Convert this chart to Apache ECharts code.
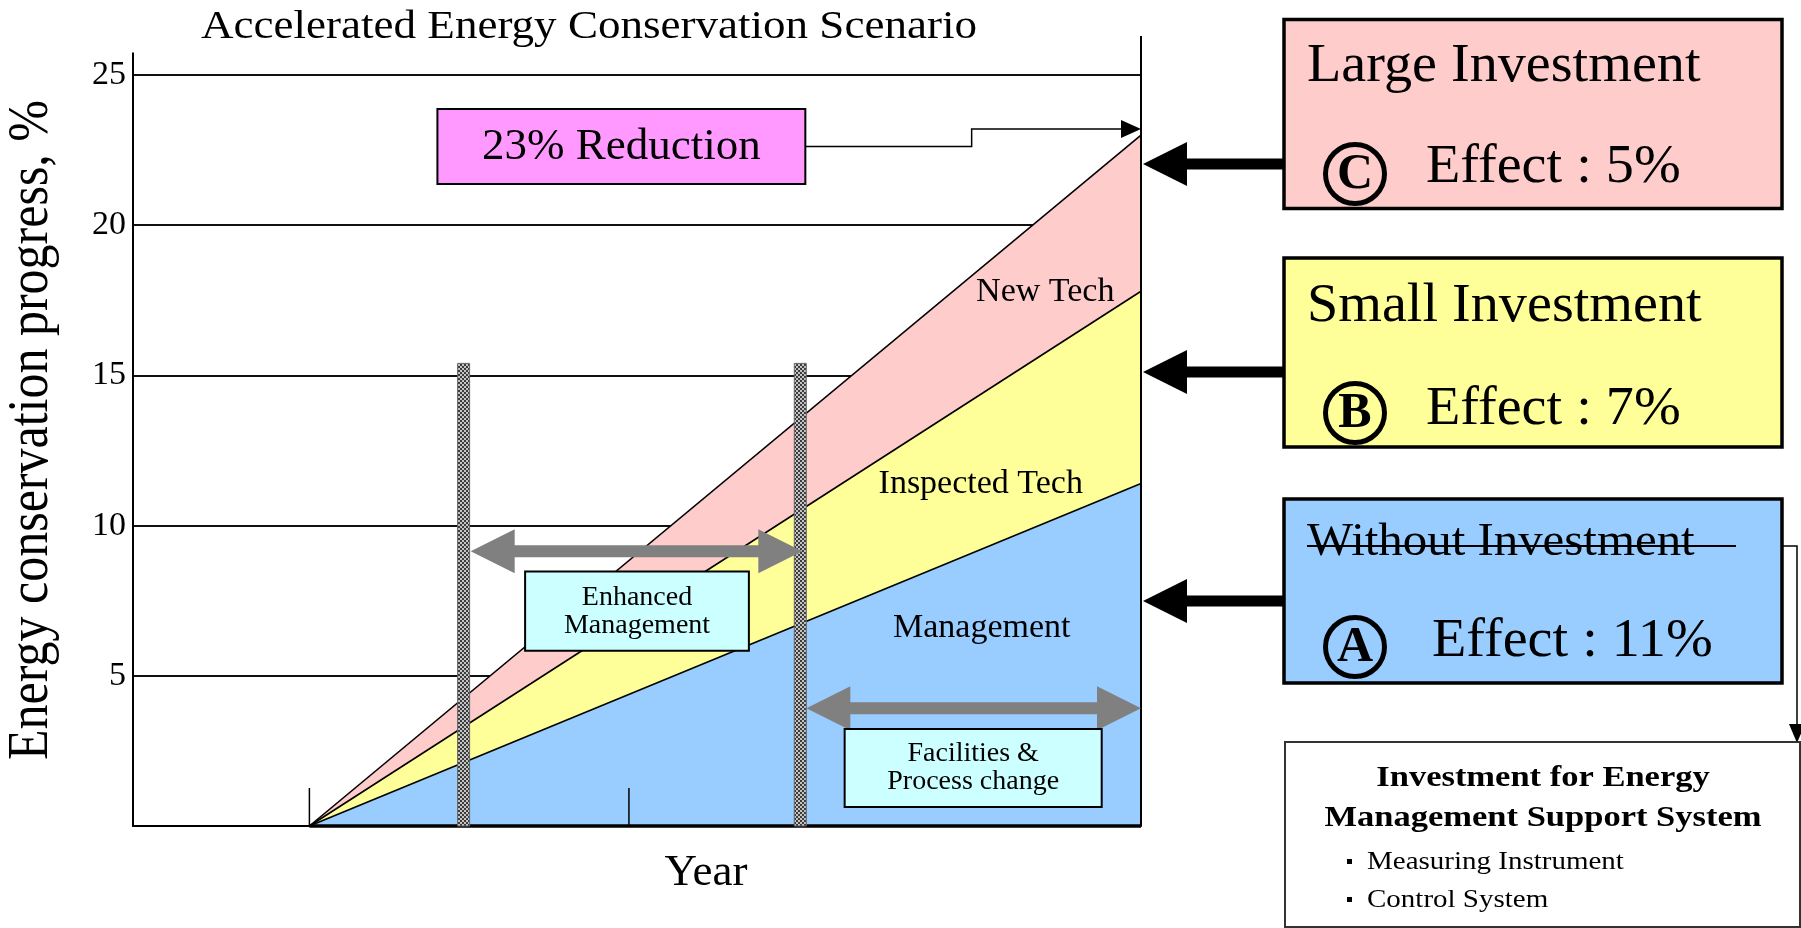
<!DOCTYPE html>
<html><head><meta charset="utf-8">
<script src="https://cdn.jsdelivr.net/npm/echarts@6/dist/echarts.min.js"></script>
<style>html,body{margin:0;padding:0;background:#fff}#c{width:1801px;height:928px}</style>
</head><body><div id="c"></div>
<script>
// ---------- data ----------
const yTicks = [0, 5, 10, 15, 20, 25];
const yearSpan = [17.5, 100];            // start and end of the scenario on the year axis
// cumulative top of each layer at start and end of the span
const managementTop = [0, 11.4];         // blue layer
const inspectedTechTop = [0, 17.8];      // yellow layer
const newTechTop = [0, 23.0];            // pink layer (total 23 %)
const layerNames = ['Management', 'Inspected Tech', 'New Tech'];
const yearTicks = [17.5, 49.2];
const phaseBounds = [32.8, 66.2];
const phaseBoundTop = [15.4, 15.4];
const phaseNames = ['Enhanced\nManagement', 'Facilities &\nProcess change'];
const totalReductionLabel = '23% Reduction';
const investTitles = ['Large Investment', 'Small Investment', 'Without Investment'];
const investLetters = ['C', 'B', 'A'];
const investEffects = ['Effect : 5%', 'Effect : 7%', 'Effect : 11%'];
const supportTitle = ['Investment for Energy', 'Management Support System'];
const supportItems = ['Measuring Instrument', 'Control System'];

// ---------- styles ----------
const F = '"Liberation Serif","Times New Roman",serif';
const pat = document.createElement('canvas');
pat.width = 4; pat.height = 4;
(function () {
  const c = pat.getContext('2d');
  c.fillStyle = '#c4c4c4'; c.fillRect(0, 0, 4, 4);
  c.fillStyle = '#3c3c3c'; c.fillRect(0, 0, 2, 2); c.fillRect(2, 2, 2, 2);
})();

function layer(name, values, color, z) {
  return {
    type: 'line', name: name, symbol: 'none', z: z,
    data: yearSpan.map((x, k) => [x, values[k]]),
    lineStyle: { color: '#000', width: 1.6 },
    areaStyle: { color: color, opacity: 1 },
    silent: true
  };
}

const chart = echarts.init(document.getElementById('c'), null, { renderer: 'canvas' });

function dblArrow(xl, xr, y) {
  const h = 44, hh = 22, t = 6;
  return [[xl, y], [xl + h, y - hh], [xl + h, y - t], [xr - h, y - t], [xr - h, y - hh], [xr, y],
          [xr - h, y + hh], [xr - h, y + t], [xl + h, y + t], [xl + h, y + hh]];
}
function leftArrow(y) {
  return [[1143, y], [1187, y - 22], [1187, y - 5.5], [1284, y - 5.5], [1284, y + 5.5], [1187, y + 5.5], [1187, y + 22]];
}

const boxFills = ['#FFCCCC', '#FFFF99', '#99CCFF'];
const boxTops = [19.5, 258, 499];
const boxHeights = [189, 189, 184];
const titleY = [67, 307, 543];
const effY = [168, 409.5, 642];
const circY = [174, 413, 647];
const effX = [1426, 1426, 1432];
const arrowY = [164, 372, 601];

const graphics = [
  { type: 'text', x: 589, y: 28, scaleX: 1.155, style: { text: 'Accelerated Energy Conservation Scenario', font: '39px ' + F, fill: '#000', align: 'center', verticalAlign: 'middle' } },
  { type: 'text', x: 32, y: 430, rotation: Math.PI / 2, scaleY: 1.15, style: { text: 'Energy conservation progress, %', font: '50px ' + F, fill: '#000', align: 'center', verticalAlign: 'middle' } },
  { type: 'text', x: 706, y: 873, style: { text: 'Year', font: '45px ' + F, fill: '#000', align: 'center', verticalAlign: 'middle' } }
];
for (let i = 0; i < 3; i++) {
  graphics.push({ type: 'polygon', shape: { points: leftArrow(arrowY[i]) }, style: { fill: '#000' } });
  graphics.push({ type: 'rect', shape: { x: 1284, y: boxTops[i], width: 498, height: boxHeights[i] }, style: { fill: boxFills[i], stroke: '#000', lineWidth: 3.5 } });
  graphics.push({ type: 'text', x: 1307, y: titleY[i], scaleX: 1.04, style: { text: investTitles[i], font: (i === 2 ? '47px ' : '54px ') + F, fill: '#000', align: 'left', verticalAlign: 'middle' } });
  graphics.push({ type: 'circle', shape: { cx: 1355, cy: circY[i], r: 29.5 }, style: { fill: 'none', stroke: '#000', lineWidth: 5 } });
  graphics.push({ type: 'text', x: 1355, y: circY[i] + 1, style: { text: investLetters[i], font: 'bold 50px ' + F, fill: '#000', align: 'center', verticalAlign: 'middle' } });
  graphics.push({ type: 'text', x: effX[i], y: effY[i], scaleX: 1.04, style: { text: investEffects[i], font: '54px ' + F, fill: '#000', align: 'left', verticalAlign: 'middle' } });
}
graphics.push({ type: 'line', shape: { x1: 1307, y1: 546, x2: 1736, y2: 546 }, style: { stroke: '#000', lineWidth: 2 } });
graphics.push({ type: 'polyline', shape: { points: [[1782, 546], [1797, 546], [1797, 726]] }, style: { stroke: '#000', lineWidth: 1.5, fill: null } });
graphics.push({ type: 'polygon', shape: { points: [[1789, 724], [1805, 724], [1797, 743]] }, style: { fill: '#000' } });
graphics.push({ type: 'rect', shape: { x: 1285, y: 742, width: 515, height: 185 }, style: { fill: '#fff', stroke: '#333', lineWidth: 2 } });
graphics.push({ type: 'text', x: 1543, y: 778, scaleX: 1.15, style: { text: supportTitle[0], font: 'bold 30px ' + F, fill: '#000', align: 'center', verticalAlign: 'middle' } });
graphics.push({ type: 'text', x: 1543, y: 818, scaleX: 1.15, style: { text: supportTitle[1], font: 'bold 30px ' + F, fill: '#000', align: 'center', verticalAlign: 'middle' } });
[862, 900].forEach((y, i) => {
  graphics.push({ type: 'rect', shape: { x: 1347, y: y - 3, width: 5, height: 5 }, style: { fill: '#000' } });
  graphics.push({ type: 'text', x: 1367, y: y, scaleX: 1.16, style: { text: supportItems[i], font: '25px ' + F, fill: '#000', align: 'left', verticalAlign: 'middle' } });
});

const option = {
  animation: false,
  backgroundColor: '#fff',
  grid: { left: 133, right: 660, top: 75, bottom: 102, containLabel: false },
  xAxis: {
    type: 'value', min: 0, max: 100,
    axisLine: { show: true, lineStyle: { color: '#000', width: 2 } },
    axisTick: { show: false }, axisLabel: { show: false }, splitLine: { show: false }
  },
  yAxis: {
    type: 'value', min: yTicks[0], max: yTicks[yTicks.length - 1], interval: 5,
    axisLine: { show: true, lineStyle: { color: '#000', width: 2 } },
    axisTick: { show: false },
    axisLabel: { showMinLabel: false, color: '#000', fontFamily: F, fontSize: 34, margin: 7 },
    splitLine: { show: true, lineStyle: { color: '#111', width: 2 } }
  },
  graphic: { elements: graphics },
  series: [
    layer(layerNames[2], newTechTop, '#FFCCCC', 2),
    layer(layerNames[1], inspectedTechTop, '#FFFF99', 3),
    layer(layerNames[0], managementTop, '#99CCFF', 4),
    // frame: left axis extension, right edge, thick base under the layers
    { type: 'line', symbol: 'none', clip: false, z: 6, silent: true, data: [[0, 0], [0, 25.75]], lineStyle: { color: '#000', width: 2 } },
    { type: 'line', symbol: 'none', clip: false, z: 6, silent: true, data: [[100, 0], [100, 26.3]], lineStyle: { color: '#000', width: 2 } },
    { type: 'line', symbol: 'none', clip: false, z: 6, silent: true, data: yearSpan.map(x => [x, 0]), lineStyle: { color: '#000', width: 3.5 } },
    // year ticks (inside)
    {
      type: 'custom', z: 6, silent: true, data: yearTicks.map(x => [x, 0]),
      renderItem: (p, api) => {
        const a = api.coord([api.value(0), 0]);
        return { type: 'line', shape: { x1: a[0], y1: a[1], x2: a[0], y2: a[1] - 38 }, style: { stroke: '#000', lineWidth: 1.5 } };
      }
    },
    // phase boundaries (hatched)
    {
      type: 'custom', z: 7, silent: true, data: phaseBounds.map((x, i) => [x, phaseBoundTop[i]]),
      renderItem: (p, api) => {
        const a = api.coord([api.value(0), 0]), b = api.coord([api.value(0), api.value(1)]);
        return { type: 'rect', shape: { x: a[0] - 6, y: b[1], width: 12, height: a[1] - b[1] }, style: { fill: { image: pat, repeat: 'repeat' }, stroke: '#666', lineWidth: 1 } };
      }
    },
    // phase range arrows
    {
      type: 'custom', z: 8, silent: true, data: [[33.5, 9.15, 66.4], [66.8, 3.92, 100]],
      renderItem: (p, api) => {
        const a = api.coord([api.value(0), api.value(1)]), b = api.coord([api.value(2), api.value(1)]);
        return { type: 'polygon', shape: { points: dblArrow(a[0], b[0], a[1]) }, style: { fill: '#808080' } };
      }
    },
    // phase label boxes
    {
      type: 'custom', z: 9, silent: true, data: [[38.9, 8.47, 61.1, 5.83], [70.6, 3.23, 96.1, 0.63]],
      renderItem: (p, api) => {
        const a = api.coord([api.value(0), api.value(1)]), b = api.coord([api.value(2), api.value(3)]);
        return { type: 'group', children: [
          { type: 'rect', shape: { x: a[0], y: a[1], width: b[0] - a[0], height: b[1] - a[1] }, style: { fill: '#CCFFFF', stroke: '#000', lineWidth: 2 } },
          { type: 'text', x: (a[0] + b[0]) / 2, y: (a[1] + b[1]) / 2, style: { text: phaseNames[p.dataIndex], font: '28px ' + F, lineHeight: 28, fill: '#000', align: 'center', verticalAlign: 'middle' } }
        ] };
      }
    },
    // layer labels
    {
      type: 'custom', z: 9, silent: true, data: [[84.2, 6.59], [84.1, 11.38], [90.5, 17.78]],
      renderItem: (p, api) => {
        const a = api.coord([api.value(0), api.value(1)]);
        return { type: 'text', x: a[0], y: a[1], style: { text: layerNames[p.dataIndex], font: '34px ' + F, fill: '#000', align: 'center', verticalAlign: 'middle' } };
      }
    },
    // total reduction callout
    {
      type: 'custom', z: 9, silent: true, data: [[30.2, 23.87, 66.7, 21.37, 83.2, 23.2]],
      renderItem: (p, api) => {
        const a = api.coord([api.value(0), api.value(1)]), b = api.coord([api.value(2), api.value(3)]);
        const bend = api.coord([api.value(4), api.value(5)]), tip = api.coord([100, api.value(5)]);
        const my = (a[1] + b[1]) / 2;
        return { type: 'group', children: [
          { type: 'polyline', shape: { points: [[b[0], my], [bend[0], my], [bend[0], bend[1]], [tip[0] - 18, bend[1]]] }, style: { stroke: '#000', lineWidth: 1.5, fill: null } },
          { type: 'polygon', shape: { points: [[tip[0] - 20, bend[1] - 9], [tip[0], bend[1]], [tip[0] - 20, bend[1] + 9]] }, style: { fill: '#000' } },
          { type: 'rect', shape: { x: a[0], y: a[1], width: b[0] - a[0], height: b[1] - a[1] }, style: { fill: '#FF99FF', stroke: '#000', lineWidth: 2 } },
          { type: 'text', x: (a[0] + b[0]) / 2, y: my + 1, style: { text: totalReductionLabel, font: '45px ' + F, fill: '#000', align: 'center', verticalAlign: 'middle' } }
        ] };
      }
    }
  ]
};
chart.setOption(option);
</script>
</body></html>
